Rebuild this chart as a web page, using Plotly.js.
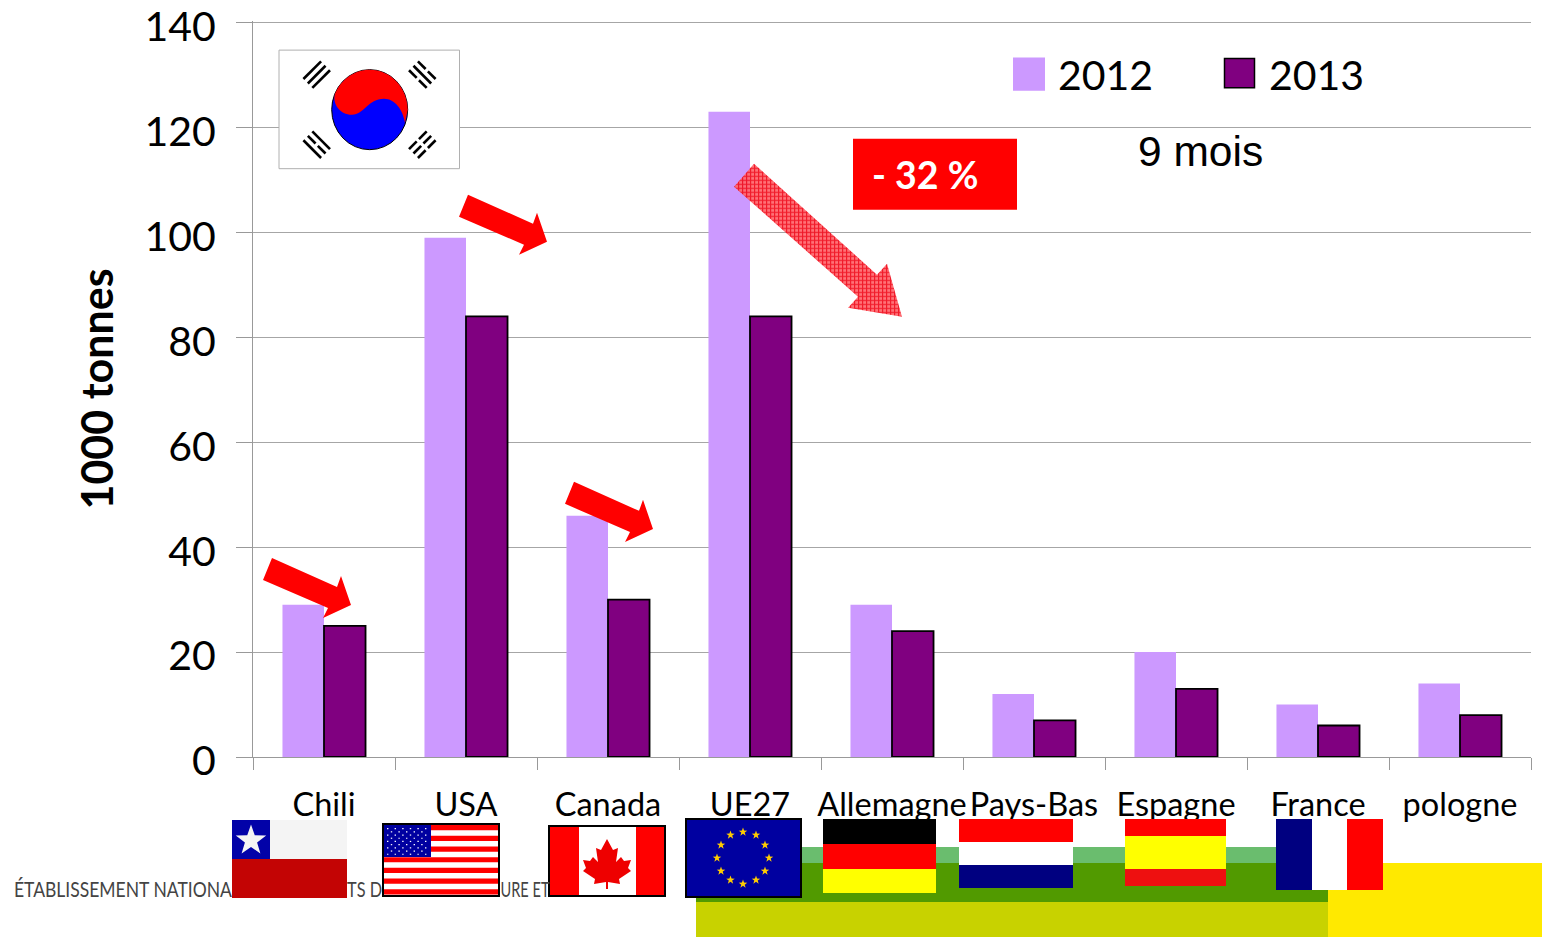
<!DOCTYPE html>
<html><head><meta charset="utf-8">
<script src="https://cdn.plot.ly/plotly-3.0.1.min.js"></script>
<style>html,body{margin:0;padding:0;background:#fff}#c{width:1542px;height:937px}</style>
</head><body><div id="c"></div>
<script>
var categories=['Chili','USA','Canada','UE27','Allemagne','Pays-Bas','Espagne','France','pologne'];
var values2012=[29,99,46,123,29,12,20,10,14];
var values2013=[25,84,30,84,24,7,13,6,8];
var series2012='2012', series2013='2013';
var yTicks=[0,20,40,60,80,100,120,140];
var colour2012='#CC99FF', colour2013='#800080';

var W=1542,H=937,ML=253,MR=11,MT=21.4,MB=180;
var PW=W-ML-MR,PH=H-MT-MB;
function fx(x){return (x-ML)/PW;}
function fy(y){return 1-(y-MT)/PH;}
var shapes=[];
function rect(x0,y0,x1,y1,fill,line,lw){shapes.push({type:'rect',xref:'paper',yref:'paper',x0:fx(x0),x1:fx(x1),y0:fy(y0),y1:fy(y1),fillcolor:fill,line:{color:line||fill,width:line?(lw||1):0},layer:'above'});}
function poly(pts,fill,line,lw){var d=pts.map(function(p,i){return (i?'L':'M')+fx(p[0])+','+fy(p[1]);}).join('')+'Z';shapes.push({type:'path',xref:'paper',yref:'paper',path:d,fillcolor:fill,line:{color:line||fill,width:line?(lw||1):0},layer:'above'});}
function star(cx,cy,r,fill){var p=[];for(var i=0;i<10;i++){var a=-Math.PI/2+i*Math.PI/5,q=i%2?r*0.4:r;p.push([cx+q*Math.cos(a),cy+q*Math.sin(a)]);}poly(p,fill);}
function circ(cx,cy,rx,ry,fill,line,lw){shapes.push({type:'circle',xref:'paper',yref:'paper',x0:fx(cx-rx),x1:fx(cx+rx),y0:fy(cy-ry),y1:fy(cy+ry),fillcolor:fill,line:{color:line||fill,width:line?(lw||1):0},layer:'above'});}
function bez(d,fill){
  var s=d.map(function(c){var o=c[0];for(var i=1;i<c.length;i+=2){o+=(i>1?' ':'')+fx(c[i])+','+fy(c[i+1]);}return o;}).join('')+'Z';
  shapes.push({type:'path',xref:'paper',yref:'paper',path:s,fillcolor:fill,line:{width:0},layer:'above'});}

// footer band
rect(750,847,1328,863,'#6ABD6E');
rect(696,863,1328,902,'#519A00');
rect(696,902,1328,937,'#C8D200');
rect(1328,863,1542,937,'#FFE900');

// Chile
rect(232,820,347,859,'#F4F4F4');
rect(232,820,270,859,'#0202A8');
rect(232,859,347,898,'#C30404');
star(251,840.5,16,'#F4F4F4');
// USA
rect(383,824,499,896,'#fff','#000',2);
for(var i=0;i<7;i++){rect(384,825+i*10.7,498,825+i*10.7+5.2,'#FF0000');}
rect(384,825,431,857,'#0000A0');
for(var r=0;r<9;r++){for(var c=0;c<(r%2?5:6);c++){rect(387+c*7.6+(r%2?3.8:0),828+r*3.2,388.4+c*7.6+(r%2?3.8:0),829.2+r*3.2,'#fff');}}
// Canada
rect(549,826,665,896,'#fff','#000',2);
rect(550,827,579,895,'#FF0000');rect(636,827,664,895,'#FF0000');
poly([[607,839],[613,850],[618,848],[616,862],[621,857],[624,861],[631,860],[628,868],[631,871],[619,879],[620,884],[608,882],[608,889],[606,889],[606,882],[594,884],[595,879],[583,871],[586,868],[583,860],[590,861],[593,857],[598,862],[596,848],[601,850]],'#EE0000');
// EU
rect(686,819,801,897,'#0000A0','#000',2);
var eu=[[743,832],[756,835],[730.5,835],[765,845],[721,845],[769,858],[717,858],[765,871],[721,871],[756,880],[730.5,880],[743,884]];
eu.forEach(function(p){star(p[0],p[1],4.5,'#FFCC00');});
// Germany
rect(823,819,936,844,'#000');rect(823,844,936,869,'#FF0000');rect(823,869,936,893,'#FFFF00');
// Netherlands
rect(959,819,1073,842,'#FF0000');rect(959,842,1073,865,'#fff');rect(959,865,1073,888,'#000080');
// Spain
rect(1125,819,1226,836,'#FF0000');rect(1125,836,1226,869,'#FFFF00');rect(1125,869,1226,886,'#EE1010');
// France
rect(1276,819,1312,890,'#000080');rect(1312,819,1347,890,'#fff');rect(1347,819,1383,890,'#FF0000');

// Korea
rect(279,50.5,459.5,169,'#fff','#B0B0B0',1);
circ(369.7,110,38,40,'#0000FF','#000',1);
bez([['M',335,94],['C',332,104,340,115,352,115],['C',364,115,368,99,384,99],['C',395,99,403,110,405,123],['L',407.7,110],['C',407.7,88,390.7,70,369.7,70],['C',354,70,341,80,335,94]],'#FF0000');
function bars(cx,cy,ang,pattern){
  var L=12.5,w=1.3,g=6.3;var ca=Math.cos(ang),sa=Math.sin(ang);
  [-1,0,1].forEach(function(k,i){var mx=cx+k*g*ca,my=cy+k*g*sa;
    var segs=pattern[i]?[[-L,-1.6],[1.6,L]]:[[-L,L]];
    segs.forEach(function(s){var ux=-sa,uy=ca;
      poly([[mx+ux*s[0]+ca*w,my+uy*s[0]+sa*w],[mx+ux*s[1]+ca*w,my+uy*s[1]+sa*w],[mx+ux*s[1]-ca*w,my+uy*s[1]-sa*w],[mx+ux*s[0]-ca*w,my+uy*s[0]-sa*w]],'#000');});});}
bars(316.7,75,Math.PI/4,[0,0,0]);
bars(422.3,75,-Math.PI/4,[1,0,1]);
bars(316.7,145,-Math.PI/4,[0,1,0]);
bars(422.3,145,Math.PI/4,[1,1,1]);

// small arrows
function arrow(dx,dy){poly([[468,195],[459,217],[524,245],[519,255],[547,242],[537,213],[533,224]].map(function(p){return [p[0]+dx,p[1]+dy];}),'#FF0000');}
arrow(0,0);arrow(106,287);arrow(-196,363);

// -32% box
rect(853,139,1017,210,'#FF0000');
// legend swatches
rect(1013,58,1045,91,colour2012);
rect(1224.5,59,1254.5,88,colour2013,'#000',1.5);

// hatched big arrow as SVG image
var arrowSvg='<svg xmlns="http://www.w3.org/2000/svg" width="180" height="165" viewBox="0 0 180 165"><defs><pattern id="h" width="4" height="4" patternUnits="userSpaceOnUse"><rect width="4" height="4" fill="#FF6A70"/><rect width="4" height="1.2" fill="#F01020"/><rect width="1.2" height="4" fill="#F01020"/></pattern></defs><polygon points="24,4 147,115 157,104 172,157 118,148 128,137 4,27" fill="url(#h)" fill-opacity="0.95"/></svg>';
var images=[{source:'data:image/svg+xml;base64,'+btoa(arrowSvg),xref:'paper',yref:'paper',x:fx(730),y:fy(160),sizex:180/PW,sizey:165/PH,xanchor:'left',yanchor:'top',sizing:'stretch',layer:'above'}];

function note(text,x,y,size,opt){opt=opt||{};return {text:text,xref:'paper',yref:'paper',x:fx(x),y:fy(y),xanchor:opt.anchor||'left',yanchor:'middle',showarrow:false,font:{family:opt.family||'Lato, sans-serif',size:size,color:opt.color||'#000'},textangle:opt.angle||0};}
var footerPieces=[['ÉTABLISSEMENT NATIONA',14,218],['TS D',347,35],['URE ET',500,49]];
var annotations=[
 note(series2012,1056,75,41),
 note(series2013,1267,75,41),
 note('9 mois',1136,152,42.5,{family:'Liberation Sans, Arial, sans-serif'}),
 note('<b>- 32 %</b>',870,175,37.5,{color:'#fff'})
].concat(footerPieces.map(function(p){return note(p[0],p[1]+p[2]/2,888,22,{color:'#444',anchor:'center'});}));

var base={type:'bar',x:categories,hoverinfo:'x+y'};
Plotly.newPlot('c',[
 Object.assign({},base,{name:series2012,y:values2012,marker:{color:colour2012,line:{width:0}}}),
 Object.assign({},base,{name:series2013,y:values2013,marker:{color:colour2013,line:{color:'#000',width:1.8}}})
],{
 width:W,height:H,autosize:false,
 margin:{l:ML,r:MR,t:MT,b:MB,pad:0},
 paper_bgcolor:'#fff',plot_bgcolor:'#fff',
 barmode:'group',bargap:0.415,bargroupgap:0,showlegend:false,
 xaxis:{type:'category',categoryorder:'array',categoryarray:categories,tickson:'boundaries',ticks:'outside',ticklen:12,tickcolor:'#999',tickwidth:1,showline:true,linecolor:'#999',linewidth:1,showgrid:false,tickfont:{family:'Lato, sans-serif',size:32.5,color:'#000'},tickangle:0,automargin:false,ticklabelstandoff:19},
 yaxis:{range:[0,140.3],tickmode:'array',tickvals:yTicks,ticktext:yTicks.map(String),ticks:'outside',ticklen:16,tickcolor:'#999',tickwidth:1,showline:true,linecolor:'#999',linewidth:1,gridcolor:'#A6A6A6',gridwidth:1,zeroline:false,tickfont:{family:'Lato, sans-serif',size:41,color:'#000'},automargin:false,ticklabelstandoff:12,ticklabelshift:4,
  title:{text:'<b>1000 tonnes</b>',font:{family:'Lato, sans-serif',size:43,color:'#000'},standoff:17}},
 shapes:shapes,images:images,annotations:annotations
},{displayModeBar:false,responsive:false}).then(function(){
  document.querySelectorAll('.annotation-text').forEach(function(t){
    footerPieces.forEach(function(p){
      if(t.textContent===p[0]){t.setAttribute('textLength',p[2]);t.setAttribute('lengthAdjust','spacingAndGlyphs');}
    });
  });
});
</script></body></html>
